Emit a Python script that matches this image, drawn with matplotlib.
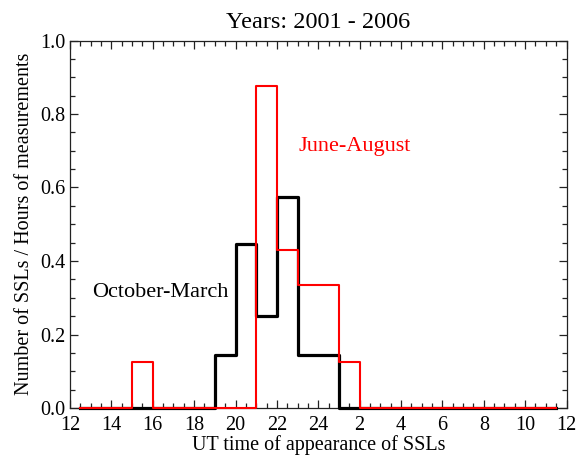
import numpy as np
import matplotlib
matplotlib.use("Agg")
import matplotlib.pyplot as plt
from matplotlib.ticker import MultipleLocator

plt.rcParams['font.family'] = ['Liberation Serif', 'DejaVu Serif']

# hourly bins, 12 UT through 11 UT of the next day (hours past 24 wrap)
hours = np.arange(12, 36)
oct_mar_hours = [19, 20, 21, 22, 23, 24]
oct_mar_vals = [0.145, 0.445, 0.25, 0.573, 0.143, 0.143]
jun_aug_hours = [15, 21, 22, 23, 24, 25]
jun_aug_vals = [0.125, 0.877, 0.43, 0.335, 0.335, 0.125]

xtick_pos = np.arange(12, 37, 2)
xtick_labels = ['12', '14', '16', '18', '20', '22', '24', '2', '4', '6', '8', '10', '12']
ytick_pos = np.arange(0, 1.01, 0.2)
ytick_labels = ['0.0', '0.2', '0.4', '0.6', '0.8', '1.0']


def fill_hist(h, v):
    y = np.zeros(len(hours))
    for hh, vv in zip(h, v):
        y[hh - 12] = vv
    return y


oct_mar = fill_hist(oct_mar_hours, oct_mar_vals)
jun_aug = fill_hist(jun_aug_hours, jun_aug_vals)
centers = hours + 0.5

fig = plt.figure(figsize=(5.77, 4.58), dpi=100)
ax = fig.add_axes([70 / 577, 1 - 408 / 458, 496.5 / 577, 367.5 / 458])

ax.step(centers, oct_mar, where='mid', color='black', lw=2.3, clip_on=False, zorder=3)
ax.step(centers, jun_aug, where='mid', color='red', lw=1.5, clip_on=False, zorder=4)

ax.set_xlim(12, 36)
ax.set_ylim(0, 1.0)
ax.set_xticks(xtick_pos)
ax.set_xticklabels(xtick_labels)
ax.set_yticks(ytick_pos)
ax.set_yticklabels(ytick_labels)
ax.xaxis.set_minor_locator(MultipleLocator(0.5))
ax.yaxis.set_minor_locator(MultipleLocator(0.05))
ax.tick_params(which='both', direction='in', top=True, right=True,
               labelsize=14.5, width=0.9, color='#222222')
ax.tick_params(axis='x', pad=6)
ax.tick_params(axis='y', pad=3)
ax.tick_params(which='major', length=6)
ax.tick_params(which='minor', length=3.3)
for s in ax.spines.values():
    s.set_linewidth(0.9)
    s.set_color('#222222')

ax.set_title('Years: 2001 - 2006', fontsize=17.5, pad=9)
ax.set_xlabel('UT time of appearance of SSLs', fontsize=14.5, labelpad=0)
ax.set_ylabel('Number of SSLs / Hours of measurements', fontsize=14.5, labelpad=5)

ax.text(13.05, 0.303, 'October-March', color='black', fontsize=16, va='baseline', ha='left')
ax.text(23.03, 0.70, 'June-August', color='red', fontsize=16, va='baseline', ha='left')

fig.savefig('out.png', dpi=100)
